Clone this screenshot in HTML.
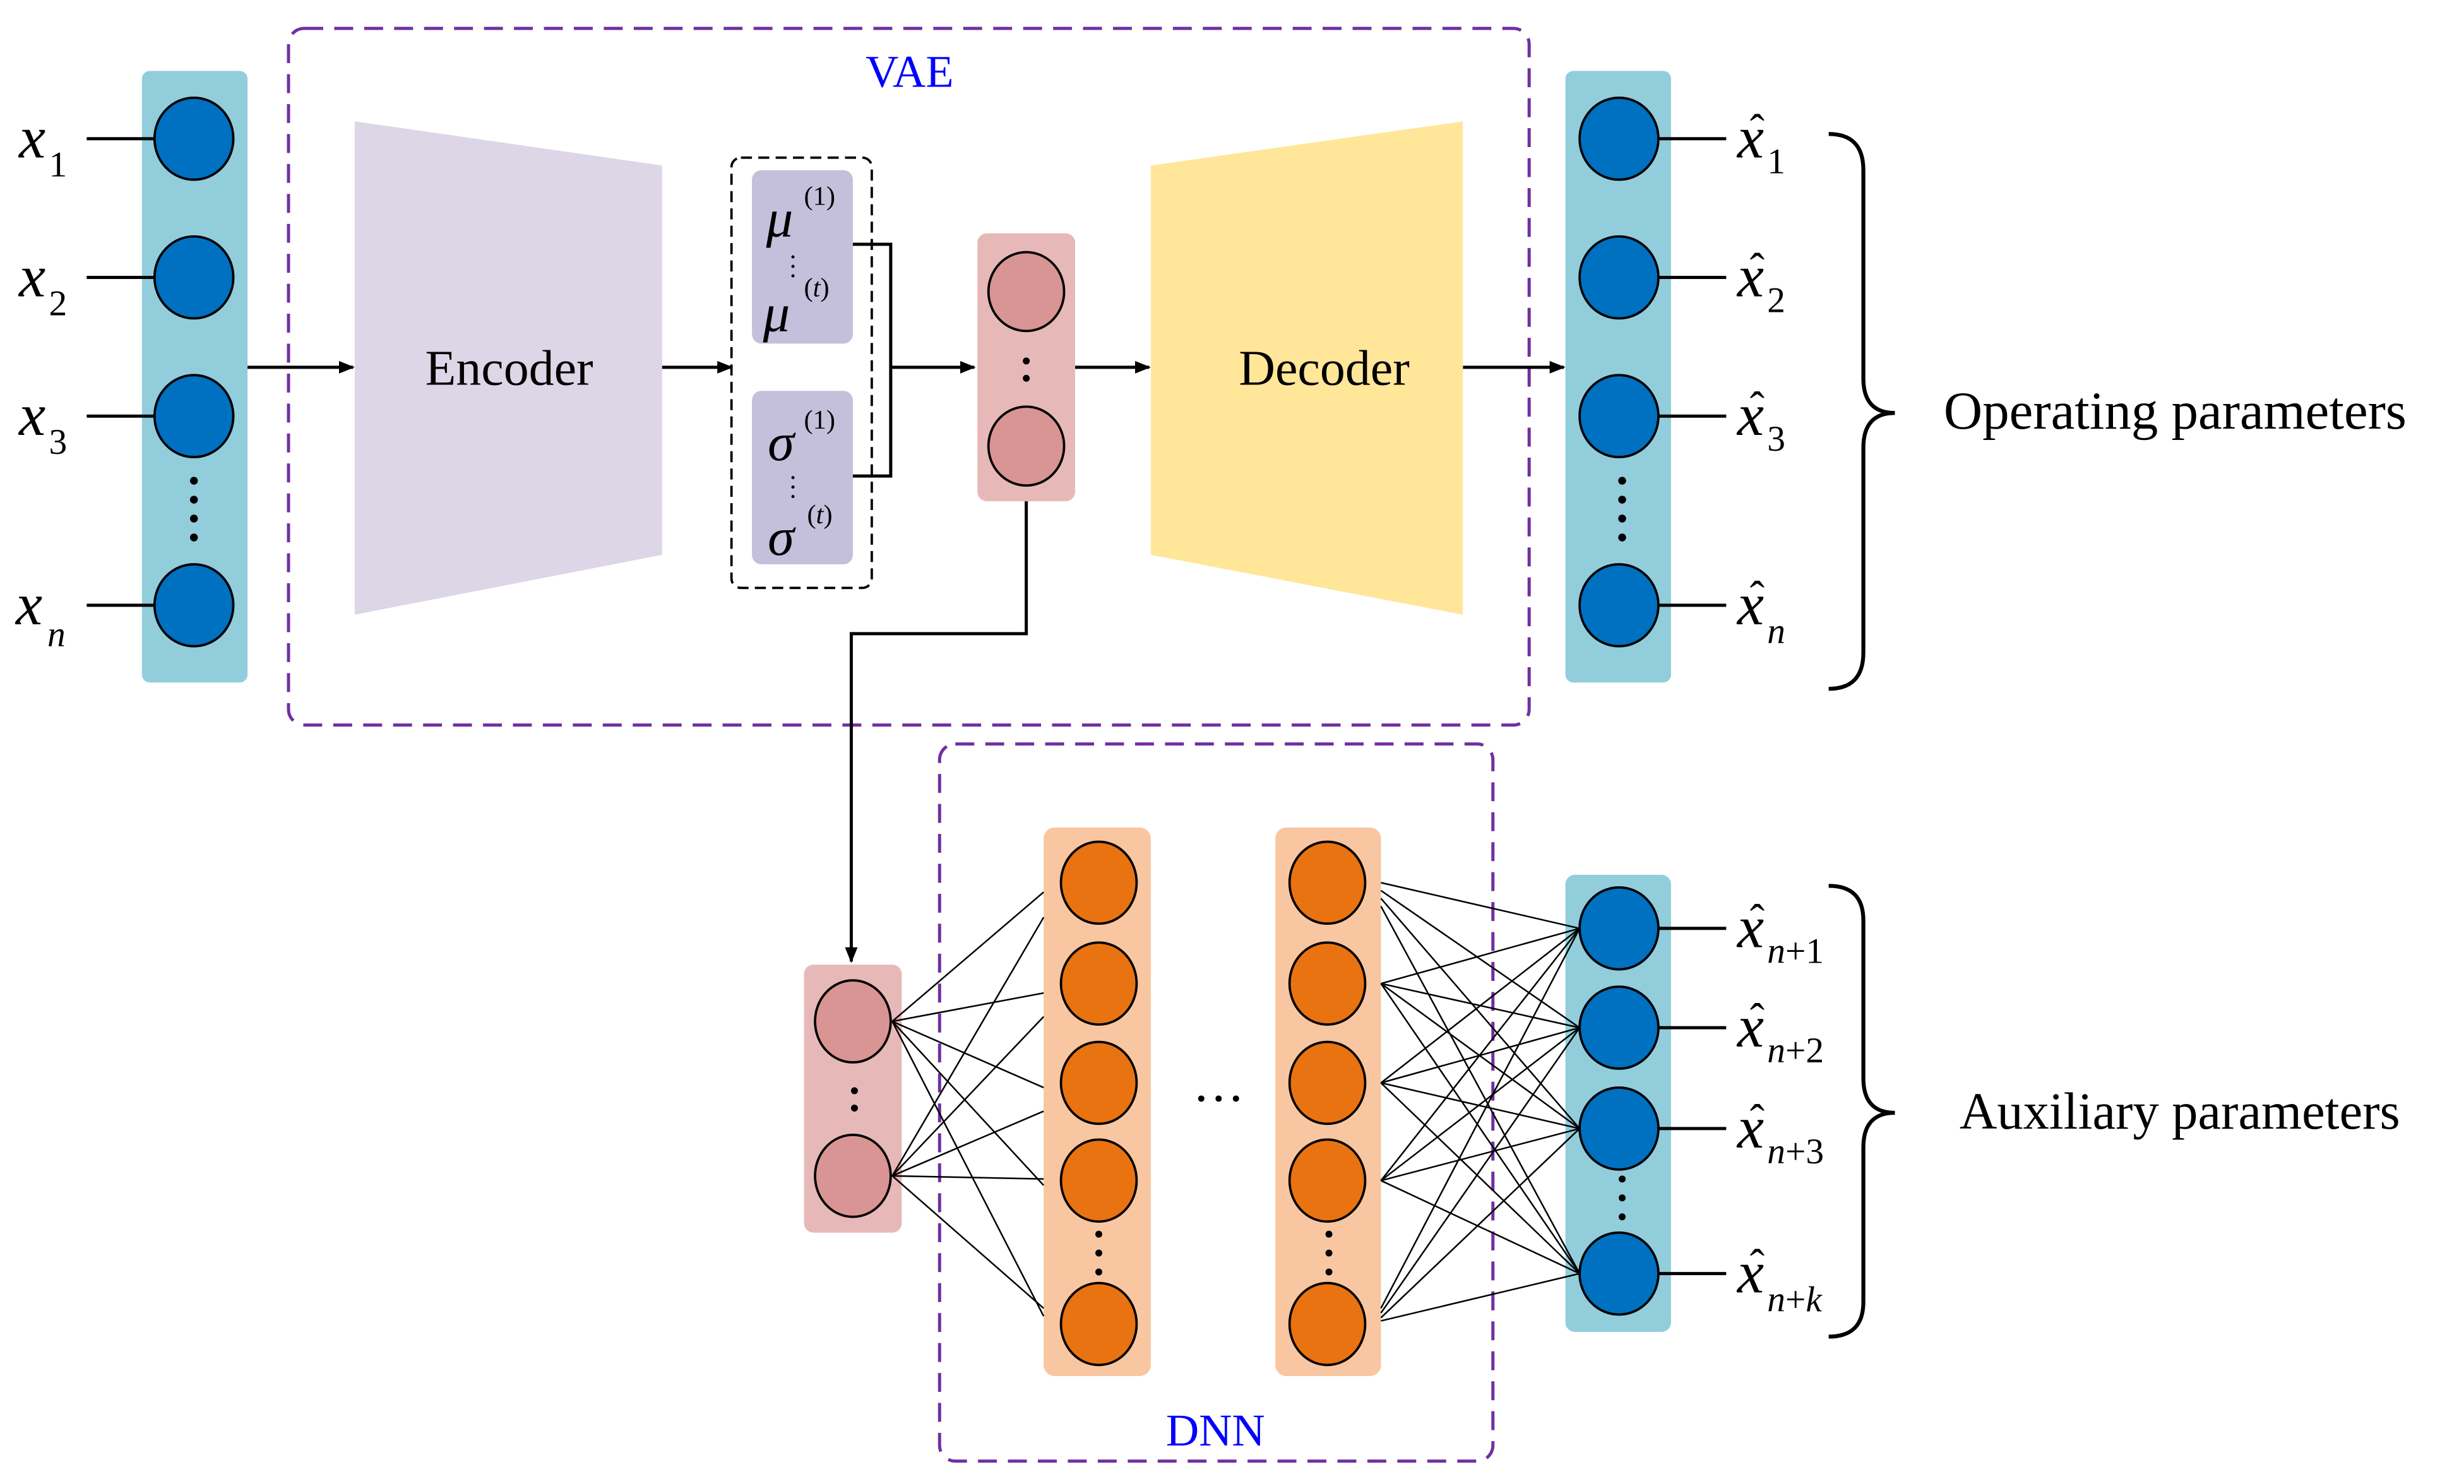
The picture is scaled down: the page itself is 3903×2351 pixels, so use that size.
<!DOCTYPE html>
<html><head><meta charset="utf-8"><style>html,body{margin:0;padding:0;background:#fff}svg{display:block}</style></head>
<body>
<svg width="3903" height="2351" viewBox="0 0 1563 941.5" xmlns="http://www.w3.org/2000/svg" font-family="'Liberation Serif', serif">
<defs><marker id="ar" markerWidth="10" markerHeight="8" refX="9" refY="4" orient="auto" markerUnits="userSpaceOnUse"><path d="M0,0 L10,4 L0,8 z" fill="#000"/></marker></defs>
<rect width="1563" height="941.5" fill="#fff"/>
<rect x="183" y="18" width="787" height="442" rx="10" fill="none" stroke="#7030A0" stroke-width="2" stroke-dasharray="12,7"/>
<text x="577" y="55" font-size="29" fill="#0000FF" text-anchor="middle">VAE</text>
<rect x="90" y="45" width="67" height="388" rx="5" fill="#92CDDC"/>
<g fill="#0070C0" stroke="#000" stroke-width="1.5">
<ellipse cx="123" cy="88" rx="25" ry="26"/><ellipse cx="123" cy="176" rx="25" ry="26"/><ellipse cx="123" cy="264" rx="25" ry="26"/><ellipse cx="123" cy="384" rx="25" ry="26"/></g>
<g fill="#000"><circle cx="123" cy="305" r="2.5"/><circle cx="123" cy="317" r="2.5"/><circle cx="123" cy="329" r="2.5"/><circle cx="123" cy="341" r="2.5"/></g>
<g stroke="#000" stroke-width="2"><line x1="55" y1="88" x2="98" y2="88"/><line x1="55" y1="176" x2="98" y2="176"/><line x1="55" y1="264" x2="98" y2="264"/><line x1="55" y1="384" x2="98" y2="384"/></g>
<g font-size="38" font-style="italic"><text x="12" y="100">x</text><text x="12" y="188">x</text><text x="12" y="276">x</text><text x="10" y="396">x</text></g>
<g font-size="23"><text x="31" y="112">1</text><text x="31" y="200">2</text><text x="31" y="288">3</text><text x="30" y="410" font-style="italic">n</text></g>
<polygon points="225,77 420,105 420,352 225,390" fill="#DCD6E6"/>
<text x="323" y="244" font-size="32" text-anchor="middle">Encoder</text>
<g stroke="#000" stroke-width="2" fill="none">
<line x1="157" y1="233" x2="224" y2="233" marker-end="url(#ar)"/>
<line x1="420" y1="233" x2="464" y2="233" marker-end="url(#ar)"/>
<polyline points="541,155 565,155 565,302 541,302"/>
<line x1="565" y1="233" x2="618" y2="233" marker-end="url(#ar)"/>
<line x1="682" y1="233" x2="729" y2="233" marker-end="url(#ar)"/>
<line x1="928" y1="233" x2="992" y2="233" marker-end="url(#ar)"/>
<polyline points="651,318 651,402 540,402 540,610" marker-end="url(#ar)"/>
</g>
<rect x="464" y="100" width="89" height="273" rx="6" fill="none" stroke="#000" stroke-width="1.5" stroke-dasharray="7,4"/>
<rect x="477" y="108" width="64" height="110" rx="6" fill="#C4BFDA"/>
<rect x="477" y="248" width="64" height="110" rx="6" fill="#C4BFDA"/>
<g font-size="34" font-style="italic"><text x="486" y="150">μ</text><text x="484" y="210">μ</text><text x="487" y="292">σ</text><text x="487" y="352">σ</text></g>
<g font-size="17"><text x="510" y="130">(1)</text><text x="510" y="188">(<tspan font-style="italic">t</tspan>)</text><text x="510" y="272">(1)</text><text x="512" y="332">(<tspan font-style="italic">t</tspan>)</text></g>
<g fill="#000"><circle cx="503" cy="163" r="1"/><circle cx="503" cy="169" r="1"/><circle cx="503" cy="175" r="1"/><circle cx="503" cy="303" r="1"/><circle cx="503" cy="309" r="1"/><circle cx="503" cy="315" r="1"/></g>
<rect x="620" y="148" width="62" height="170" rx="6" fill="#E6B9B8"/>
<g fill="#D99594" stroke="#000" stroke-width="1.5"><ellipse cx="651" cy="185" rx="24" ry="25"/><ellipse cx="651" cy="283" rx="24" ry="25"/></g>
<circle cx="651" cy="229" r="2.2"/><circle cx="651" cy="240" r="2.2"/>
<polygon points="730,105 928,77 928,390 730,352" fill="#FFE699"/>
<text x="840" y="244" font-size="32" text-anchor="middle">Decoder</text>
<rect x="993" y="45" width="67" height="388" rx="5" fill="#92CDDC"/>
<g fill="#0070C0" stroke="#000" stroke-width="1.5">
<ellipse cx="1027" cy="88" rx="25" ry="26"/><ellipse cx="1027" cy="176" rx="25" ry="26"/><ellipse cx="1027" cy="264" rx="25" ry="26"/><ellipse cx="1027" cy="384" rx="25" ry="26"/></g>
<g fill="#000"><circle cx="1029" cy="305" r="2.5"/><circle cx="1029" cy="317" r="2.5"/><circle cx="1029" cy="329" r="2.5"/><circle cx="1029" cy="341" r="2.5"/></g>
<g stroke="#000" stroke-width="2"><line x1="1052" y1="88" x2="1095" y2="88"/><line x1="1052" y1="176" x2="1095" y2="176"/><line x1="1052" y1="264" x2="1095" y2="264"/><line x1="1052" y1="384" x2="1095" y2="384"/></g>
<g font-size="38" font-style="italic"><text x="1102" y="100">x</text><text x="1102" y="188">x</text><text x="1102" y="276">x</text><text x="1102" y="396">x</text></g>
<g font-size="28"><text x="1110" y="92">ˆ</text><text x="1110" y="180">ˆ</text><text x="1110" y="268">ˆ</text><text x="1110" y="388">ˆ</text></g>
<g font-size="23"><text x="1121" y="110">1</text><text x="1121" y="198">2</text><text x="1121" y="286">3</text><text x="1121" y="408" font-style="italic">n</text></g>
<path d="M1160,85 Q1182,85 1182,108 L1182,240 Q1182,262 1202,262 Q1182,262 1182,284 L1182,414 Q1182,437 1160,437" fill="none" stroke="#000" stroke-width="2.5"/>
<text x="1233" y="272" font-size="34">Operating parameters</text>
<rect x="596" y="472" width="351" height="455" rx="10" fill="none" stroke="#7030A0" stroke-width="2" stroke-dasharray="12,7"/>
<text x="771" y="917" font-size="29" fill="#0000FF" text-anchor="middle">DNN</text>
<rect x="510" y="612" width="62" height="170" rx="6" fill="#E6B9B8"/>
<rect x="662" y="525" width="68" height="348" rx="7" fill="#F8C6A0"/>
<rect x="809" y="525" width="67" height="348" rx="7" fill="#F8C6A0"/>
<rect x="993" y="555" width="67" height="290" rx="6" fill="#92CDDC"/>
<g stroke="#000" stroke-width="1">
<line x1="566" y1="648" x2="662" y2="566"/><line x1="566" y1="648" x2="662" y2="630"/><line x1="566" y1="648" x2="662" y2="690"/><line x1="566" y1="648" x2="662" y2="752"/><line x1="566" y1="648" x2="662" y2="835"/>
<line x1="566" y1="746" x2="662" y2="582"/><line x1="566" y1="746" x2="662" y2="645"/><line x1="566" y1="746" x2="662" y2="705"/><line x1="566" y1="746" x2="662" y2="748"/><line x1="566" y1="746" x2="662" y2="830"/>
</g>
<g stroke="#000" stroke-width="1">
<line x1="876" y1="560" x2="1002" y2="589"/><line x1="876" y1="565" x2="1002" y2="652"/><line x1="876" y1="570" x2="1002" y2="716"/><line x1="876" y1="575" x2="1002" y2="808"/>
<line x1="876" y1="624" x2="1002" y2="589"/><line x1="876" y1="624" x2="1002" y2="652"/><line x1="876" y1="624" x2="1002" y2="716"/><line x1="876" y1="624" x2="1002" y2="808"/>
<line x1="876" y1="687" x2="1002" y2="589"/><line x1="876" y1="687" x2="1002" y2="652"/><line x1="876" y1="687" x2="1002" y2="716"/><line x1="876" y1="687" x2="1002" y2="808"/>
<line x1="876" y1="749" x2="1002" y2="589"/><line x1="876" y1="749" x2="1002" y2="652"/><line x1="876" y1="749" x2="1002" y2="716"/><line x1="876" y1="749" x2="1002" y2="808"/>
<line x1="876" y1="830" x2="1002" y2="589"/><line x1="876" y1="833" x2="1002" y2="652"/><line x1="876" y1="836" x2="1002" y2="716"/><line x1="876" y1="838" x2="1002" y2="808"/>
</g>
<g fill="#D99594" stroke="#000" stroke-width="1.5"><ellipse cx="541" cy="648" rx="24" ry="26"/><ellipse cx="541" cy="746" rx="24" ry="26"/></g>
<circle cx="542" cy="692" r="2.2"/><circle cx="542" cy="703" r="2.2"/>
<g fill="#E97311" stroke="#000" stroke-width="1.5">
<ellipse cx="697" cy="560" rx="24" ry="26"/><ellipse cx="697" cy="624" rx="24" ry="26"/><ellipse cx="697" cy="687" rx="24" ry="26"/><ellipse cx="697" cy="749" rx="24" ry="26"/><ellipse cx="697" cy="840" rx="24" ry="26"/>
<ellipse cx="842" cy="560" rx="24" ry="26"/><ellipse cx="842" cy="624" rx="24" ry="26"/><ellipse cx="842" cy="687" rx="24" ry="26"/><ellipse cx="842" cy="749" rx="24" ry="26"/><ellipse cx="842" cy="840" rx="24" ry="26"/></g>
<g fill="#000"><circle cx="697" cy="783" r="2.2"/><circle cx="697" cy="795" r="2.2"/><circle cx="697" cy="807" r="2.2"/><circle cx="843" cy="783" r="2.2"/><circle cx="843" cy="795" r="2.2"/><circle cx="843" cy="807" r="2.2"/>
<circle cx="762" cy="697" r="2"/><circle cx="773" cy="697" r="2"/><circle cx="784" cy="697" r="2"/>
<circle cx="1029" cy="748" r="2.2"/><circle cx="1029" cy="760" r="2.2"/><circle cx="1029" cy="772" r="2.2"/></g>
<g fill="#0070C0" stroke="#000" stroke-width="1.5">
<ellipse cx="1027" cy="589" rx="25" ry="26"/><ellipse cx="1027" cy="652" rx="25" ry="26"/><ellipse cx="1027" cy="716" rx="25" ry="26"/><ellipse cx="1027" cy="808" rx="25" ry="26"/></g>
<g stroke="#000" stroke-width="2"><line x1="1052" y1="589" x2="1095" y2="589"/><line x1="1052" y1="652" x2="1095" y2="652"/><line x1="1052" y1="716" x2="1095" y2="716"/><line x1="1052" y1="808" x2="1095" y2="808"/></g>
<g font-size="38" font-style="italic"><text x="1102" y="601">x</text><text x="1102" y="664">x</text><text x="1102" y="728">x</text><text x="1102" y="820">x</text></g>
<g font-size="28"><text x="1110" y="593">ˆ</text><text x="1110" y="656">ˆ</text><text x="1110" y="720">ˆ</text><text x="1110" y="812">ˆ</text></g>
<g font-size="23"><text x="1121" y="611"><tspan font-style="italic">n</tspan>+1</text><text x="1121" y="674"><tspan font-style="italic">n</tspan>+2</text><text x="1121" y="738"><tspan font-style="italic">n</tspan>+3</text><text x="1121" y="832"><tspan font-style="italic">n</tspan>+<tspan font-style="italic">k</tspan></text></g>
<path d="M1160,562 Q1182,562 1182,584 L1182,684 Q1182,706 1202,706 Q1182,706 1182,728 L1182,826 Q1182,848 1160,848" fill="none" stroke="#000" stroke-width="2.5"/>
<text x="1243" y="716" font-size="33">Auxiliary parameters</text>
</svg>
</body></html>
